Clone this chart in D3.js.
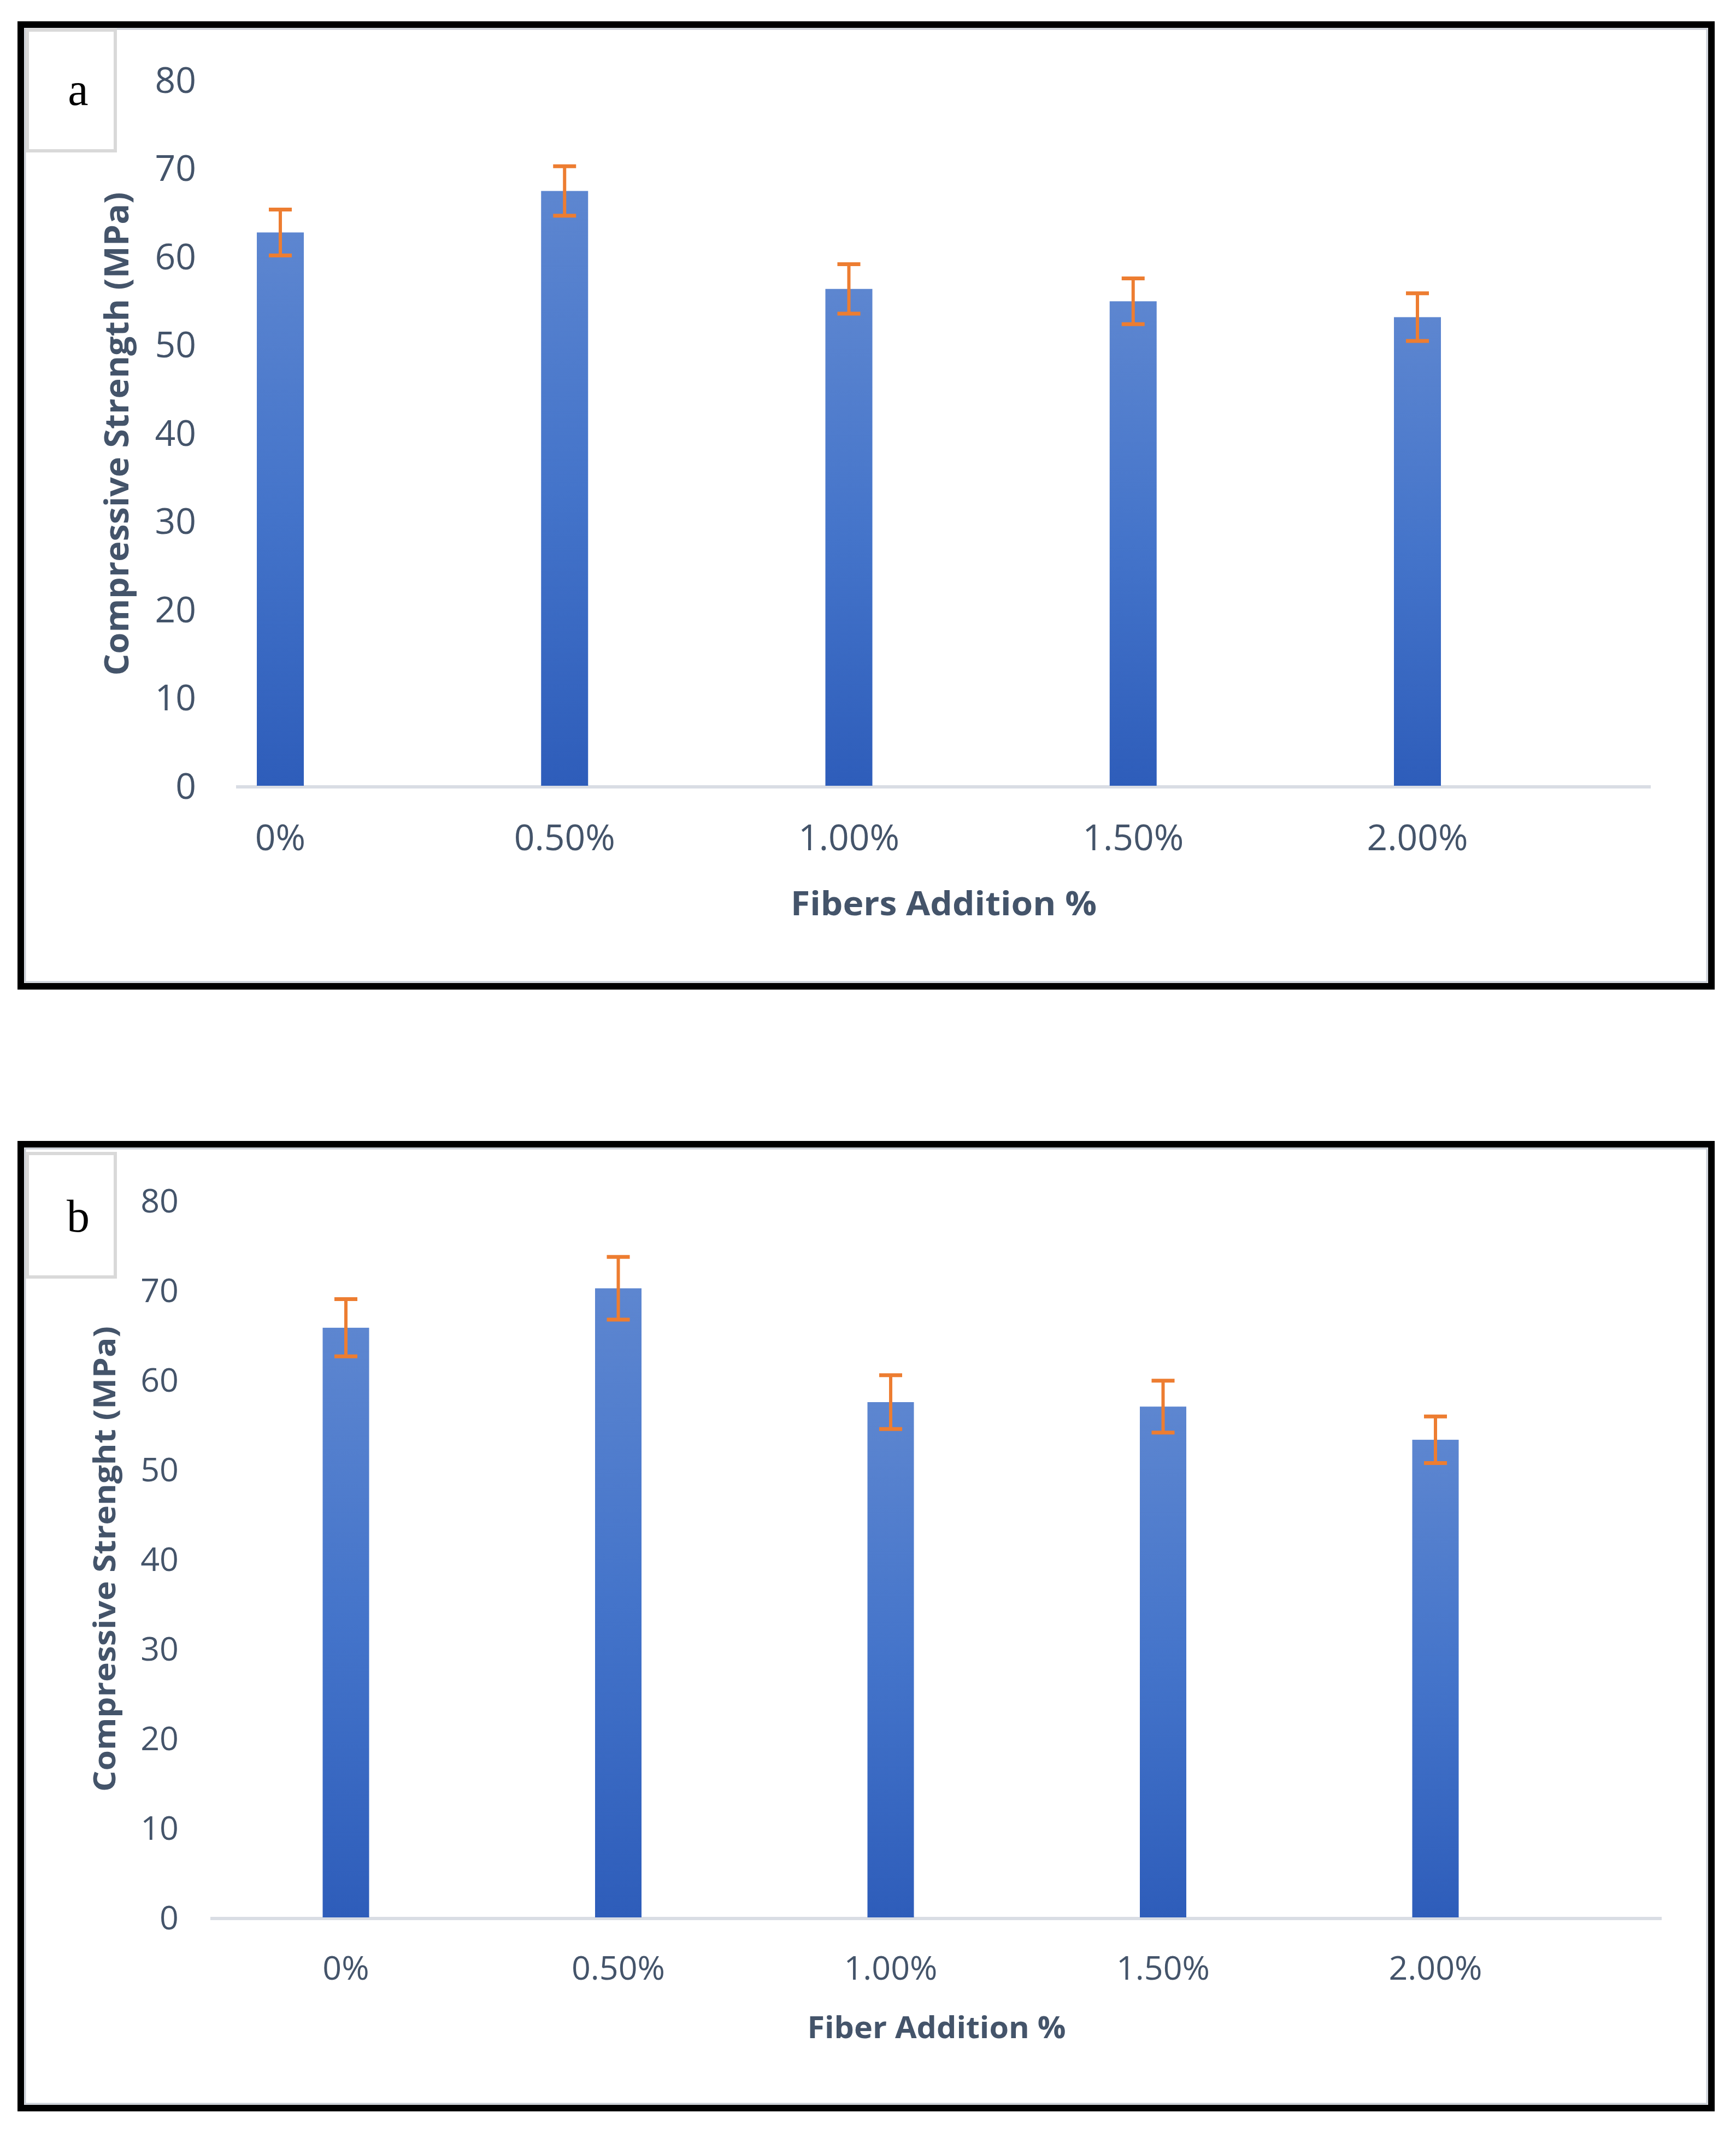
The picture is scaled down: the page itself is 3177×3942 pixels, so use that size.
<!DOCTYPE html>
<html>
<head>
<meta charset="utf-8">
<script src="https://cdn.jsdelivr.net/npm/d3@7"></script>
<style>
  html, body { margin: 0; padding: 0; background: #ffffff; }
  svg { display: block; }
</style>
</head>
<body>
<svg id="chart" width="3177" height="3942"></svg>
<script>
// ---------- data ----------
const categories = ["0%", "0.50%", "1.00%", "1.50%", "2.00%"];
const strengthA = [62.7, 67.4, 56.3, 54.9, 53.1];
const errorA    = [2.6, 2.8, 2.8, 2.6, 2.7];
const strengthB = [65.8, 70.2, 57.5, 57.0, 53.3];
const errorB    = [3.2, 3.5, 3.0, 2.9, 2.6];
const yTicks    = [0, 10, 20, 30, 40, 50, 60, 70, 80];
const panelLetters = ["a", "b"];
const xTitles = ["Fibers Addition %", "Fiber Addition %"];
const yTitles = ["Compressive Strength (MPa)", "Compressive Strenght (MPa)"];

// ---------- layout ----------
const panels = [
  {
    letter: panelLetters[0], values: strengthA, errors: errorA,
    xTitle: xTitles[0], yTitle: yTitles[0],
    frame: {x: 38, y: 45, w: 3094, h: 1760},
    box: {x: 50, y: 55, w: 161, h: 221},
    letterPos: {x: 143, y: 192},
    y0: 1438, y80: 146, tickRight: 359, tickFont: 66,
    axisX: [432, 3021], centers: [513, 2594], barW: 86,
    xLabelY: 1533, xTitlePos: {x: 1727, y: 1654}, xTitleLen: 560,
    yTitlePos: {x: 214, y: 794}, yTitleLen: 885, titleFont: 60
  },
  {
    letter: panelLetters[1], values: strengthB, errors: errorB,
    xTitle: xTitles[1], yTitle: yTitles[1],
    frame: {x: 38, y: 2094, w: 3094, h: 1764},
    box: {x: 50, y: 2111, w: 161, h: 226},
    letterPos: {x: 143, y: 2254},
    y0: 3509, y80: 2197, tickRight: 327, tickFont: 61,
    axisX: [385, 3041], centers: [633, 2627], barW: 85,
    xLabelY: 3602, xTitlePos: {x: 1714, y: 3710}, xTitleLen: 473,
    yTitlePos: {x: 191, y: 2853}, yTitleLen: 852, titleFont: 56
  }
];

const svg = d3.select("#chart");
const defs = svg.append("defs");
const grad = defs.append("linearGradient")
  .attr("id", "barGrad").attr("x1", 0).attr("y1", 0).attr("x2", 0).attr("y2", 1);
grad.append("stop").attr("offset", "0%").attr("stop-color", "#5d86d0");
grad.append("stop").attr("offset", "50%").attr("stop-color", "#4474ca");
grad.append("stop").attr("offset", "100%").attr("stop-color", "#2e5dba");

const textColor = "#44546a";
const fontSans = "'Open Sans', 'Noto Sans', sans-serif";

panels.forEach(p => {
  const g = svg.append("g");

  // outer frame
  g.append("rect")
    .attr("x", p.frame.x).attr("y", p.frame.y)
    .attr("width", p.frame.w).attr("height", p.frame.h)
    .attr("fill", "#ffffff").attr("stroke", "#000000").attr("stroke-width", 12);
  g.append("rect")
    .attr("x", p.frame.x + 8).attr("y", p.frame.y + 8)
    .attr("width", p.frame.w - 16).attr("height", p.frame.h - 16)
    .attr("fill", "none").attr("stroke", "#c9ced6").attr("stroke-width", 3);

  // letter box
  g.append("rect")
    .attr("x", p.box.x).attr("y", p.box.y)
    .attr("width", p.box.w).attr("height", p.box.h)
    .attr("fill", "#ffffff").attr("stroke", "#d9d9d9").attr("stroke-width", 6);
  g.append("text")
    .attr("x", p.letterPos.x).attr("y", p.letterPos.y)
    .attr("text-anchor", "middle")
    .attr("font-family", "'Liberation Serif', 'DejaVu Serif', serif")
    .attr("font-size", 84).attr("fill", "#000000")
    .text(p.letter);

  // scales
  const y = d3.scaleLinear().domain([0, 80]).range([p.y0, p.y80]);
  const x = d3.scalePoint().domain(categories).range(p.centers);

  // y axis labels
  const yAxis = d3.axisLeft(y).tickValues(yTicks).tickSize(0).tickPadding(0);
  const ya = g.append("g").attr("transform", `translate(${p.tickRight},0)`).call(yAxis);
  ya.select(".domain").remove();
  ya.selectAll("text")
    .attr("font-family", fontSans).attr("font-size", p.tickFont)
    .attr("fill", textColor).attr("dy", "0.35em");

  // x axis line
  g.append("line")
    .attr("x1", p.axisX[0]).attr("x2", p.axisX[1])
    .attr("y1", y(0) + 2).attr("y2", y(0) + 2)
    .attr("stroke", "#d9dde4").attr("stroke-width", 6);

  // bars
  g.selectAll("rect.bar").data(categories).enter().append("rect")
    .attr("class", "bar")
    .attr("x", c => x(c) - p.barW / 2)
    .attr("width", p.barW)
    .attr("y", (c, i) => y(p.values[i]))
    .attr("height", (c, i) => y(0) - y(p.values[i]))
    .attr("fill", "url(#barGrad)");

  // error bars
  const capW = 42;
  const eg = g.selectAll("g.err").data(categories).enter().append("g").attr("class", "err");
  eg.append("line")
    .attr("x1", c => x(c)).attr("x2", c => x(c))
    .attr("y1", (c, i) => y(p.values[i] + p.errors[i]))
    .attr("y2", (c, i) => y(p.values[i] - p.errors[i]))
    .attr("stroke", "#ed7d31").attr("stroke-width", 6);
  eg.append("line")
    .attr("x1", c => x(c) - capW / 2).attr("x2", c => x(c) + capW / 2)
    .attr("y1", (c, i) => y(p.values[i] + p.errors[i]))
    .attr("y2", (c, i) => y(p.values[i] + p.errors[i]))
    .attr("stroke", "#ed7d31").attr("stroke-width", 7);
  eg.append("line")
    .attr("x1", c => x(c) - capW / 2).attr("x2", c => x(c) + capW / 2)
    .attr("y1", (c, i) => y(p.values[i] - p.errors[i]))
    .attr("y2", (c, i) => y(p.values[i] - p.errors[i]))
    .attr("stroke", "#ed7d31").attr("stroke-width", 7);

  // x tick labels
  g.selectAll("text.xl").data(categories).enter().append("text")
    .attr("class", "xl")
    .attr("x", c => x(c)).attr("y", p.xLabelY)
    .attr("dy", "0.35em").attr("text-anchor", "middle")
    .attr("font-family", fontSans).attr("font-size", p.tickFont)
    .attr("fill", textColor)
    .text(c => c);

  // axis titles
  g.append("text")
    .attr("x", p.xTitlePos.x).attr("y", p.xTitlePos.y)
    .attr("dy", "0.35em").attr("text-anchor", "middle")
    .attr("font-family", fontSans).attr("font-weight", "bold")
    .attr("font-size", p.titleFont).attr("fill", textColor)
    .attr("textLength", p.xTitleLen).attr("lengthAdjust", "spacingAndGlyphs")
    .text(p.xTitle);

  g.append("text")
    .attr("transform", `translate(${p.yTitlePos.x},${p.yTitlePos.y}) rotate(-90)`)
    .attr("dy", "0.35em").attr("text-anchor", "middle")
    .attr("font-family", fontSans).attr("font-weight", "bold")
    .attr("font-size", p.titleFont).attr("fill", textColor)
    .attr("textLength", p.yTitleLen).attr("lengthAdjust", "spacingAndGlyphs")
    .text(p.yTitle);
});
</script>
</body>
</html>
